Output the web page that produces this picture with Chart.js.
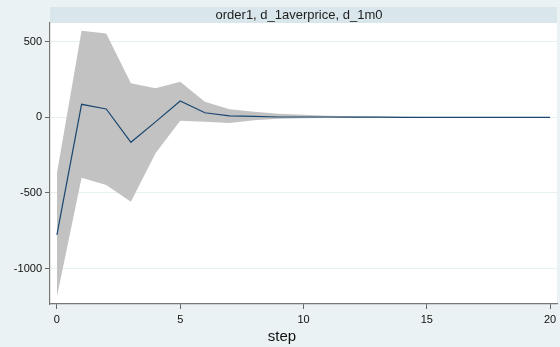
<!DOCTYPE html>
<html>
<head>
<meta charset="utf-8">
<script src="https://cdn.jsdelivr.net/npm/chart.js@4.4.1/dist/chart.umd.min.js"></script>
<style>
  html, body { margin: 0; padding: 0; background: #eaf2f3; }
  #wrap { width: 560px; height: 347px; }
</style>
</head>
<body>
<div id="wrap"><canvas id="c" width="560" height="347"></canvas></div>
<script>
// Impulse response: order1, impulse d_1averprice, response d_1m0
const steps = [0, 1, 2, 3, 4, 5, 6, 7, 8, 9, 10, 11, 12, 13, 14, 15, 16, 17, 18, 19, 20];
const irf   = [-778, 86, 55, -165, -30, 108, 30, 10, 6, 2, 2, 2, 1, 1, 0, 0, 0, 0, 0, 0, 0];
const upper = [-370, 573, 555, 225, 192, 235, 103, 53, 37, 24, 17, 11, 7, 5, 3, 2, 2, 1, 1, 1, 1];
const lower = [-1186, -399, -448, -558, -238, -22, -29, -38, -20, -10, -6, -4, -3, -2, -2, -1, -1, -1, -1, -1, -1];
const xTicks = [0, 5, 10, 15, 20];
const yTicks = [-1000, -500, 0, 500];
const panelLabel = 'order1, d_1averprice, d_1m0';
const xTitle = 'step';

const pts = arr => steps.map((s, i) => ({ x: s, y: arr[i] }));
const FONT = '"Liberation Sans", Arial, Helvetica, sans-serif';

// Background, panel header strip and the x-axis title
const framePlugin = {
  id: 'frame',
  beforeDraw(chart) {
    const { ctx, chartArea } = chart;
    ctx.save();
    ctx.fillStyle = '#eaf2f3';
    ctx.fillRect(0, 0, chart.width, chart.height);
    ctx.fillStyle = '#d9e6eb';
    ctx.fillRect(chartArea.left, 7, chartArea.right - chartArea.left, chartArea.top - 7);
    ctx.fillStyle = '#ffffff';
    ctx.fillRect(chartArea.left, chartArea.top, chartArea.right - chartArea.left, chartArea.bottom - chartArea.top);
    ctx.restore();
  },
  afterDraw(chart) {
    const { ctx, chartArea } = chart;
    ctx.save();
    ctx.fillStyle = '#1e1e1e';
    ctx.textAlign = 'center';
    ctx.textBaseline = 'middle';
    ctx.font = '13px ' + FONT;
    ctx.fillText(panelLabel, 299, (7 + chartArea.top) / 2 + 0.5);
    ctx.fillStyle = '#111';
    ctx.font = '15px ' + FONT;
    ctx.fillText(xTitle, 282, 337);
    ctx.restore();
  }
};

new Chart(document.getElementById('c'), {
  type: 'line',
  data: {
    datasets: [
      { label: 'irf', data: pts(irf), borderColor: '#1a476f', borderWidth: 1.2, pointRadius: 0,
        fill: false, tension: 0, order: 0 },
      { label: 'lower', data: pts(lower), borderWidth: 0, pointRadius: 0, fill: false, tension: 0, order: 2 },
      { label: 'upper', data: pts(upper), borderWidth: 0, pointRadius: 0, fill: '-1',
        backgroundColor: '#c2c2c2', tension: 0, order: 1 }
    ]
  },
  options: {
    responsive: false,
    animation: false,
    devicePixelRatio: 1,
    layout: { padding: { top: 23, right: 3, left: 0, bottom: 0 } },
    plugins: {
      legend: { display: false },
      tooltip: { enabled: false },
      title: { display: false }
    },
    scales: {
      x: {
        type: 'linear',
        min: -0.28,
        max: 20.28,
        afterBuildTicks: s => { s.ticks = xTicks.map(v => ({ value: v })); },
        afterFit: s => { s.height = 43; s.paddingLeft = 0; s.paddingRight = 0; },
        ticks: { color: '#111', font: { family: FONT, size: 11 }, padding: 4, maxRotation: 0 },
        grid: { display: true, drawOnChartArea: false, tickLength: 5, tickColor: '#666' },
        border: { color: '#777', width: 1.2 }
      },
      y: {
        type: 'linear',
        min: -1235,
        max: 624,
        afterBuildTicks: s => { s.ticks = yTicks.map(v => ({ value: v })); },
        afterFit: s => { s.width = 50; },
        ticks: { color: '#111', font: { family: FONT, size: 11 }, padding: 3, callback: v => String(v) },
        grid: { color: '#e6eff1', lineWidth: 1, tickLength: 5, tickColor: '#666' },
        border: { color: '#777', width: 1.2 }
      }
    }
  },
  plugins: [framePlugin]
});
</script>
</body>
</html>
